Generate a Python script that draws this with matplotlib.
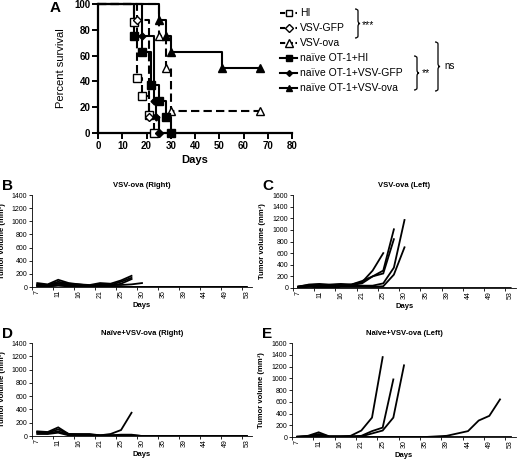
import numpy as np
import matplotlib
matplotlib.use("Agg")
import matplotlib.pyplot as plt
from matplotlib.lines import Line2D
from matplotlib.path import Path
from matplotlib.patches import PathPatch

plt.rcParams["font.family"] = ["Liberation Sans", "DejaVu Sans"]

W, H = 517, 461

# ── Panel A: survival (Kaplan-Meier) ──────────────────────────────────────────
GROUPS = ["HI", "VSV-GFP", "VSV-ova",
          "naïve OT-1+HI", "naïve OT-1+VSV-GFP", "naïve OT-1+VSV-ova"]
T_HI = [0, 15, 16, 18, 21, 23]
S_HI = [100, 85.7, 42.9, 28.6, 14.3, 0]
T_GFP = [0, 16, 21, 25]
S_GFP = [100, 87.5, 12.5, 0]
T_OVA = [0, 25, 28, 30, 67]
S_OVA = [100, 75, 50, 16.7, 16.7]
T_NHI = [0, 15, 18, 22, 25, 28, 30]
S_NHI = [100, 75, 62.5, 37.5, 25, 12.5, 0]
T_NGFP = [0, 18, 23, 24, 25]
S_NGFP = [100, 75, 25, 12.5, 0]
T_NOVA = [0, 25, 28, 30, 51, 67]
S_NOVA = [100, 87.5, 75, 62.5, 50, 50]

# ── Panels B-E: tumour volumes, Excel category axis ───────────────────────────
DAYS = [7, 9, 11, 14, 16, 18, 21, 23, 25, 28, 30, 32, 35, 37, 39, 42, 44, 46, 49, 51, 53]
Z = [0] * 21

B_LINES = [
    [60, 40, 110, 60, 40, 30, 60, 50, 100, 170],
    [40, 30, 80, 50, 40, 20, 40, 30, 80, 140],
    [20, 30, 60, 40, 30, 20, 30, 20, 50, 120],
    [30, 20, 50, 30, 20, 20, 20, 30, 30, 40, 60],
    [20, 10, 20, 10, 10, 0] + Z[6:],
    [10, 10, 30, 20, 10, 10, 10, 10, 0] + Z[9:],
]
C_LINES = [
    [20, 60, 70, 50, 50, 60, 100, 300, 600],
    [30, 50, 60, 60, 70, 60, 120, 200, 300, 1010],
    [10, 40, 50, 50, 60, 50, 80, 200, 250, 840],
    [20, 30, 40, 40, 40, 40, 40, 40, 80, 350, 1170],
    [10, 20, 30, 30, 30, 30, 30, 20, 30, 230, 700],
    [10, 20, 10, 10, 0] + Z[5:],
]
D_LINES = [
    [70, 60, 130, 30, 30, 30, 10, 30, 90, 350],
    [60, 50, 100, 30, 20, 20, 10, 10, 20, 20, 0] + Z[11:],
    [50, 40, 70, 20, 20, 10, 10, 10, 10, 10, 0] + Z[11:],
    [30, 30, 50, 10, 10, 10, 0] + Z[7:],
]
E_LINES = [
    [10, 20, 80, 10, 10, 20, 110, 330, 1360],
    [0, 10, 50, 10, 10, 10, 20, 100, 160, 980],
    [0, 10, 30, 10, 10, 10, 10, 60, 110, 330, 1220],
    [0, 0, 20, 0, 0, 0, 0, 0, 0, 0, 0, 0, 0, 10, 20, 60, 100, 280, 360, 640],
    Z,
]


def px_axes(fig, left, top, right, bottom):
    return fig.add_axes([left / W, 1 - bottom / H, (right - left) / W, (bottom - top) / H])


def fx(x):
    return x / W


def fy(y):
    return 1 - y / H


fig = plt.figure(figsize=(W / 100, H / 100), dpi=100)

# ── Panel A ───────────────────────────────────────────────────────────────────
axA = px_axes(fig, 98, 4, 292, 133)
styles = [
    dict(ls=(0, (4, 2)), marker="s", mfc="white"),
    dict(ls=(0, (4, 2)), marker="D", mfc="white"),
    dict(ls=(0, (4, 2)), marker="^", mfc="white"),
    dict(ls="-", marker="s", mfc="black"),
    dict(ls="-", marker="D", mfc="black"),
    dict(ls="-", marker="^", mfc="black"),
]
msz = [5.5, 4.5, 6, 5.5, 3.5, 5.5]
data = [(T_HI, S_HI), (T_GFP, S_GFP), (T_OVA, S_OVA),
        (T_NHI, S_NHI), (T_NGFP, S_NGFP), (T_NOVA, S_NOVA)]
for (t, s), st, ms in zip(data, styles, msz):
    axA.step(t, s, where="post", color="black", lw=1.5, ls=st["ls"], clip_on=False)
    axA.plot(t[1:], s[1:], ls="none", marker=st["marker"], ms=ms, mfc=st["mfc"],
             mec="black", mew=1.0, clip_on=False, zorder=5)

axA.set_xlim(0, 80)
axA.set_ylim(0, 100)
axA.set_xticks(np.arange(0, 81, 10))
axA.set_yticks(np.arange(0, 101, 20))
for sp in ["top", "right"]:
    axA.spines[sp].set_visible(False)
for sp in ["left", "bottom"]:
    axA.spines[sp].set_linewidth(1.6)
axA.tick_params(width=1.4, length=4, labelsize=7, pad=1.5)
for lab in axA.get_xticklabels() + axA.get_yticklabels():
    lab.set_fontweight("bold")
axA.set_xlabel("Days", fontsize=8, fontweight="bold", labelpad=3)
axA.set_ylabel("Percent survival", fontsize=8, labelpad=6)
fig.text(fx(50), fy(12), "A", fontsize=11, fontweight="bold")

# legend drawn by hand to sit where the original does
leg_y = [13, 28, 43, 58, 73, 88]
for y, name, st, ms in zip(leg_y, GROUPS, styles, msz):
    fig.add_artist(Line2D([fx(280), fx(297)], [fy(y), fy(y)], color="black", lw=1.5,
                          ls=st["ls"] if st["ls"] == "-" else (0, (2.5, 1.2)),
                          transform=fig.transFigure))
    fig.add_artist(Line2D([fx(289)], [fy(y)], marker=st["marker"], ms=ms * 0.85,
                          mfc=st["mfc"], mec="black", mew=1.0, ls="none",
                          transform=fig.transFigure))
    fig.text(fx(300), fy(y), name, fontsize=7.5, va="center", ha="left")


def brace(x0, y0, y1, w=5):
    """Right-facing curly brace in pixel coords, from y0 (top) to y1 (bottom)."""
    ym = (y0 + y1) / 2
    verts = [(x0, y0), (x0 + w * 0.6, y0), (x0 + w * 0.6, y0 + 2), (x0 + w * 0.6, y0 + 4),
             (x0 + w * 0.6, ym - 3), (x0 + w * 0.6, ym), (x0 + w, ym),
             (x0 + w * 0.6, ym), (x0 + w * 0.6, ym + 3),
             (x0 + w * 0.6, y1 - 4), (x0 + w * 0.6, y1 - 2), (x0 + w * 0.6, y1), (x0, y1)]
    codes = [Path.MOVETO, Path.CURVE3, Path.CURVE3, Path.LINETO,
             Path.LINETO, Path.CURVE3, Path.CURVE3,
             Path.CURVE3, Path.CURVE3,
             Path.LINETO, Path.LINETO, Path.CURVE3, Path.CURVE3]
    verts = [(fx(a), fy(b)) for a, b in verts]
    fig.add_artist(PathPatch(Path(verts, codes), fill=False, lw=0.9, ec="black",
                             transform=fig.transFigure))


brace(355, 9, 38)
fig.text(fx(362), fy(25), "***", fontsize=7.5, va="center")
brace(414, 56, 90)
fig.text(fx(422), fy(73), "**", fontsize=7.5, va="center")
brace(435, 42, 91)
fig.text(fx(444), fy(66), "ns", fontsize=7, va="center")

# ── Panels B-E ────────────────────────────────────────────────────────────────
x_idx = np.arange(len(DAYS))


def volume_panel(ax, lines, ymax, title, letter, letter_xy, ylab_x):
    for vals in lines:
        ax.plot(x_idx[:len(vals)], vals, color="black", lw=1.3, solid_joinstyle="miter")
    ax.set_xlim(-0.5, len(DAYS) - 0.5)
    ax.set_ylim(0, ymax)
    ax.set_yticks(np.arange(0, ymax + 1, 200))
    ax.set_xticks(x_idx[::2])
    ax.set_xticklabels([str(d) for d in DAYS[::2]], rotation=90)
    ax.set_xticks(np.arange(-0.5, len(DAYS), 2), minor=True)
    ax.tick_params(axis="x", which="major", length=0, labelsize=5, pad=2)
    ax.tick_params(axis="x", which="minor", length=2, width=0.6)
    ax.tick_params(axis="y", length=2, width=0.6, labelsize=5, pad=1.5)
    for sp in ["top", "right"]:
        ax.spines[sp].set_visible(False)
    for sp in ["left", "bottom"]:
        ax.spines[sp].set_linewidth(0.6)
    ax.set_title(title, fontsize=5.5, fontweight="bold", pad=6)
    ax.set_ylabel("Tumor volume (mm³)", fontsize=5.5, fontweight="bold")
    ax.yaxis.set_label_coords(ylab_x, 0.5)
    ax.set_xlabel("Days", fontsize=5.5, fontweight="bold", labelpad=3)
    fig.text(fx(letter_xy[0]), fy(letter_xy[1]), letter, fontsize=11, fontweight="bold")


axB = px_axes(fig, 32, 195, 252, 287)
volume_panel(axB, B_LINES, 1400, "VSV-ova (Right)", "B", (2, 190), -0.12)
axC = px_axes(fig, 293, 195, 516, 288)
volume_panel(axC, C_LINES, 1600, "VSV-ova (Left)", "C", (262, 190), -0.12)
axD = px_axes(fig, 32, 343, 252, 436)
volume_panel(axD, D_LINES, 1400, "Naïve+VSV-ova (Right)", "D", (2, 338), -0.12)
axE = px_axes(fig, 292, 343, 516, 437)
volume_panel(axE, E_LINES, 1600, "Naïve+VSV-ova (Left)", "E", (262, 338), -0.12)

fig.savefig("out.png", dpi=100)
